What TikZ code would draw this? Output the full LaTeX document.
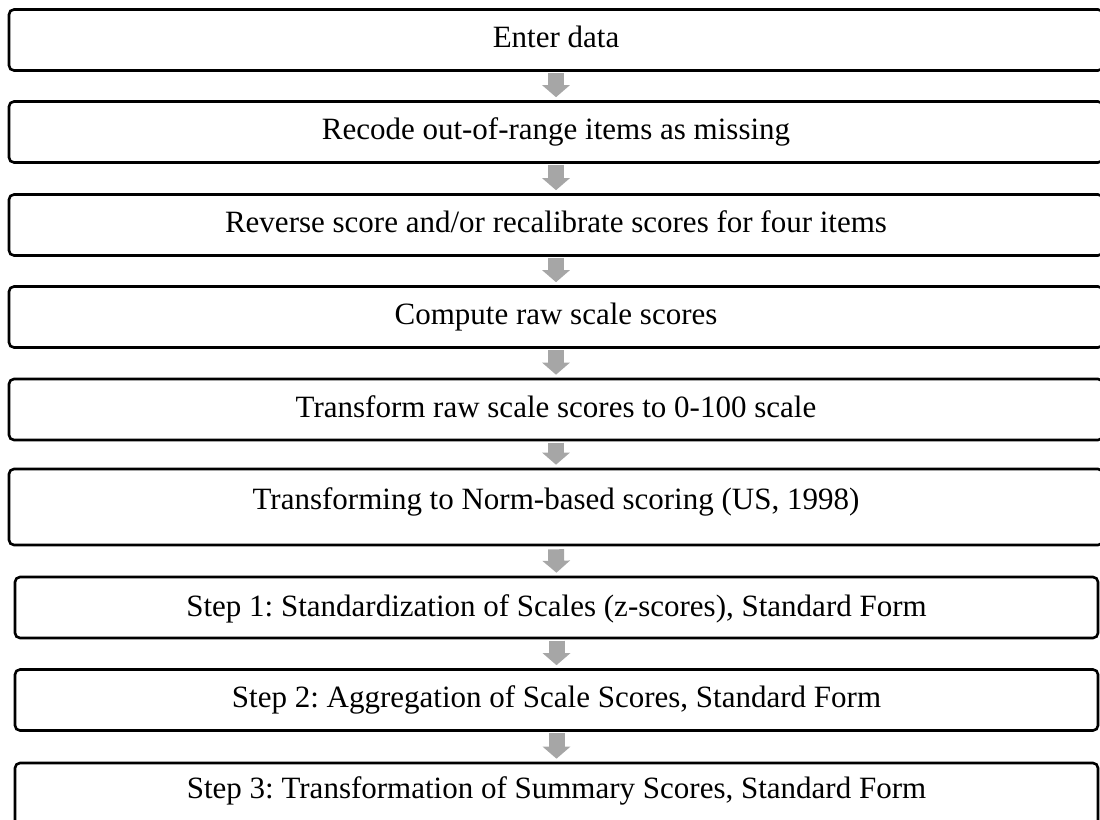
\documentclass[tikz,border=0pt]{standalone}
\usepackage{fontspec}
\setmainfont{Liberation Serif}
\usetikzlibrary{arrows.meta}
\frenchspacing

\definecolor{arrowgray}{RGB}{166,166,166}

\begin{document}
\begin{tikzpicture}[x=1pt,y=-1pt,
    stepbox/.style={draw=black,line width=2.6pt,rounded corners=5pt,
        minimum width=1094pt,minimum height=61pt,inner sep=0pt,
        text height=22pt,text depth=7pt,
        font=\fontsize{31pt}{36pt}\selectfont},
    narrowbox/.style={stepbox,minimum width=1083pt},
    flow/.style={draw=arrowgray,line width=16pt,
        -{Triangle[width=27pt,length=12pt]},arrowgray,
        shorten <=1.4pt,shorten >=3pt}]
        % Page frame, the boxes run over the right and lower edges
        \path[use as bounding box,clip] (0,0) rectangle (1100,819);

        % Preparation steps
        \node[stepbox] (enter) at (556,40) {Enter data};
        \node[stepbox] (recode) at (556,132) {Recode out-of-range items as missing};
        \node[stepbox] (reverse) at (556,225) {Reverse score and/or recalibrate scores for four items};
        \node[stepbox] (raw) at (556,317) {Compute raw scale scores};
        \node[stepbox] (transform) at (556,409.5) {Transform raw scale scores to 0-100 scale};

        % Norm-based scoring, taller box with the text set high
        \node[stepbox,minimum height=76pt,text depth=18pt] (norm) at (556,507)
            {Transforming to Norm-based scoring (US, 1998)};

        % The three steps of norm-based scoring
        \node[narrowbox,text depth=5pt] (zscore) at (556.5,607.5) {Step 1: Standardization of Scales (z-scores), Standard Form};
        \node[narrowbox] (aggregate) at (556.5,700) {Step 2: Aggregation of Scale Scores, Standard Form};
        \node[narrowbox,minimum height=64pt,text depth=16pt] (summary) at (556.5,795)
            {Step 3: Transformation of Summary Scores, Standard Form};

        % Gray block arrows between the boxes
        \draw[flow] (enter.south) -- (recode.north);
        \draw[flow] (recode.south) -- (reverse.north);
        \draw[flow] (reverse.south) -- (raw.north);
        \draw[flow] (raw.south) -- (transform.north);
        \draw[flow] (transform.south) -- (norm.north);
        \draw[flow,shorten <=3pt] (norm.south) -- (zscore.north);
        \draw[flow] (zscore.south) -- (aggregate.north);
        \draw[flow] (aggregate.south) -- (summary.north);
    \end{tikzpicture}
\end{document}
